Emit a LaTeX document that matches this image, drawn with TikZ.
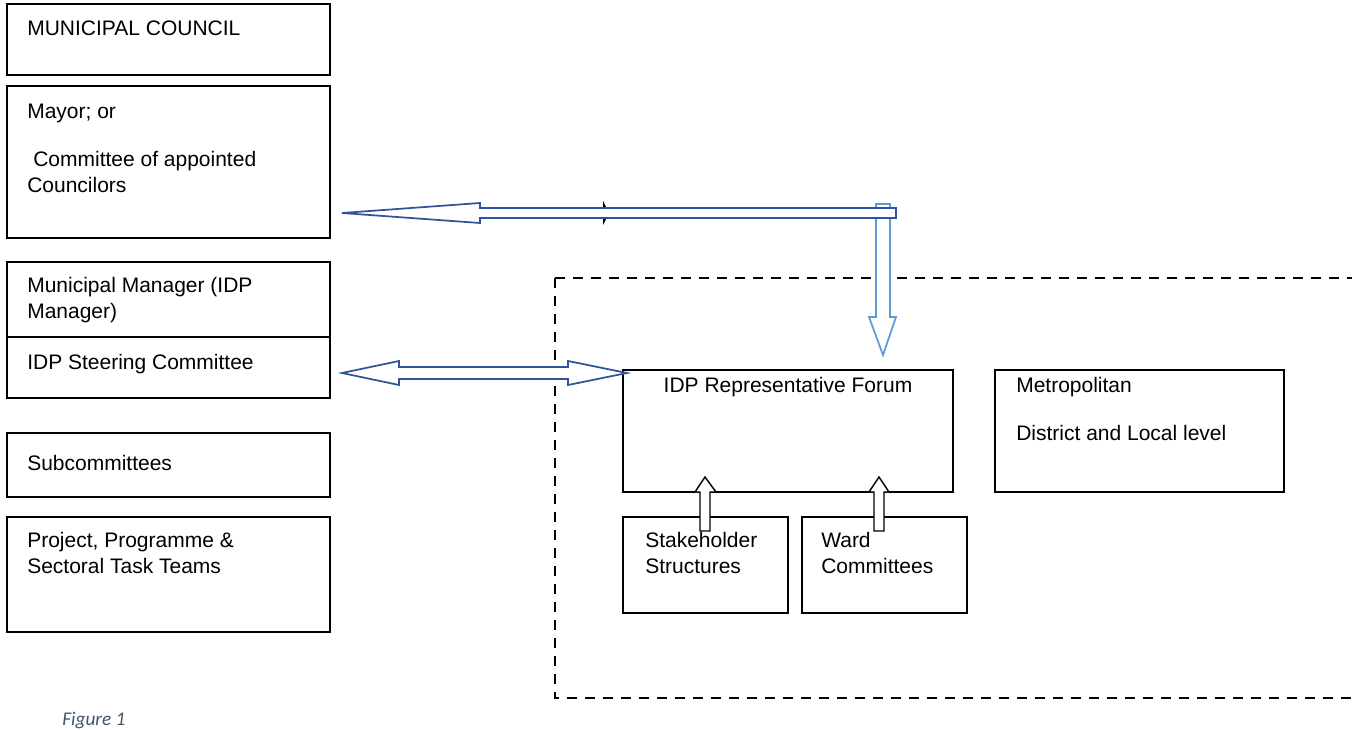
\documentclass[tikz,border=0pt]{standalone}
\usepackage{fontspec}
\setmainfont{Liberation Sans}
\newfontfamily\figfont{Carlito}
\usetikzlibrary{fit}
\definecolor{darkblue}{RGB}{47,85,151}
\definecolor{lightblue}{RGB}{91,155,213}
\definecolor{capgray}{RGB}{68,84,106}
\begin{document}
\begin{tikzpicture}[x=0.75pt,y=-0.75pt,
  box/.style={draw=black,line width=1.3pt,inner sep=0pt},
  txt/.style={anchor=base west,inner sep=0pt,font=\fontsize{15.75}{19}\selectfont},
  ctxt/.style={anchor=base,inner sep=0pt,font=\fontsize{15.75}{19}\selectfont},
  bluearrow/.style={draw=darkblue,line width=1.3pt,fill=white,line join=miter},
  lbluearrow/.style={draw=lightblue,line width=1.3pt,fill=white},
  blackarrow/.style={draw=black,line width=1.1pt,fill=white},
  dashbox/.style={draw=black,line width=1.5pt,dash pattern=on 7.5pt off 6pt}]
\useasboundingbox (0,0) rectangle (1352,729);
\fill[white] (0,0) rectangle (1352,729);

% dashed region
\coordinate (dtl) at (555,278);
\coordinate (dtr) at (1365,278);
\coordinate (dbl) at (555,698);
\coordinate (dbr) at (1365,698);
\draw[dashbox] (dtl) -- (dtr);
\draw[dashbox] (dtl) -- (dbl) -- (dbr);

% left column boxes
\node[box,fit={(7,4)(330,75)}] (mc) {};
\node[box,fit={(7,86)(330,238)}] (mayor) {};
\node[box,fit={(7,262)(330,398)}] (mm) {};
\draw[line width=1.3pt] (mm.west |- 0,337) -- (mm.east |- 0,337);
\node[box,fit={(7,433)(330,497)}] (sub) {};
\node[box,fit={(7,517)(330,632)}] (proj) {};

% right boxes
\node[box,fit={(623,370)(953,492)}] (forum) {};
\node[box,fit={(995,370)(1284,492)}] (metro) {};
\node[box,fit={(623,517)(788,613)}] (stake) {};
\node[box,fit={(802,517)(967,613)}] (ward) {};

% texts
\node[txt] (t1) at (27,35) {MUNICIPAL COUNCIL};
\node[txt] (t2) at (27,118) {Mayor; or};
\node[txt] (t3) at (33,166) {Committee of appointed};
\node[txt] (t4) at (27,192) {Councilors};
\node[txt] (t5) at (27,292) {Municipal Manager (IDP};
\node[txt] (t6) at (27,318) {Manager)};
\node[txt] (t7) at (27,369) {IDP Steering Committee};
\node[txt] (t8) at (27,470) {Subcommittees};
\node[txt] (t9) at (27,547) {Project, Programme \&};
\node[txt] (t10) at (27,573) {Sectoral Task Teams};
\node[ctxt] (t11) at (788,392) {IDP Representative Forum};
\node[txt] (t12) at (1016,392) {Metropolitan};
\node[txt] (t13) at (1016,440) {District and Local level};
\node[txt] (t14) at (645,547) {Stakeholder};
\node[txt] (t15) at (645,573) {Structures};
\node[txt] (t16) at (821,547) {Ward};
\node[txt] (t17) at (821,573) {Committees};
\node[anchor=base west,inner sep=0pt,text=capgray,font=\figfont\itshape\fontsize{14.5}{17}\selectfont] (fig) at (62,725) {Figure 1};

% down arrow (light blue) into forum
\draw[lbluearrow] (876,204) -- (890,204) -- (890,317) -- (896,317) -- (883,355) -- (869,317) -- (876,317) -- cycle;
% small black arrowhead hidden behind the shaft
\fill[black] (603,201) -- (609,213) -- (603,225) -- cycle;
% long left arrow to mayor box
\draw[bluearrow] (342,213) -- (480,203) -- (480,208) -- (896,208) -- (896,218) -- (480,218) -- (480,223) -- cycle;
% double arrow steering committee <-> forum
\draw[bluearrow] (342,373) -- (399,361) -- (399,367) -- (568,367) -- (568,361) -- (627,373) -- (568,385) -- (568,379) -- (399,379) -- (399,385) -- cycle;

% up arrows
\draw[blackarrow] (700,531) -- (700,492) -- (695,492) -- (705,477) -- (716,492) -- (710,492) -- (710,531) -- cycle;
\draw[blackarrow] (874,531) -- (874,492) -- (869,492) -- (879,477) -- (889,492) -- (884,492) -- (884,531) -- cycle;
\end{tikzpicture}
\end{document}
